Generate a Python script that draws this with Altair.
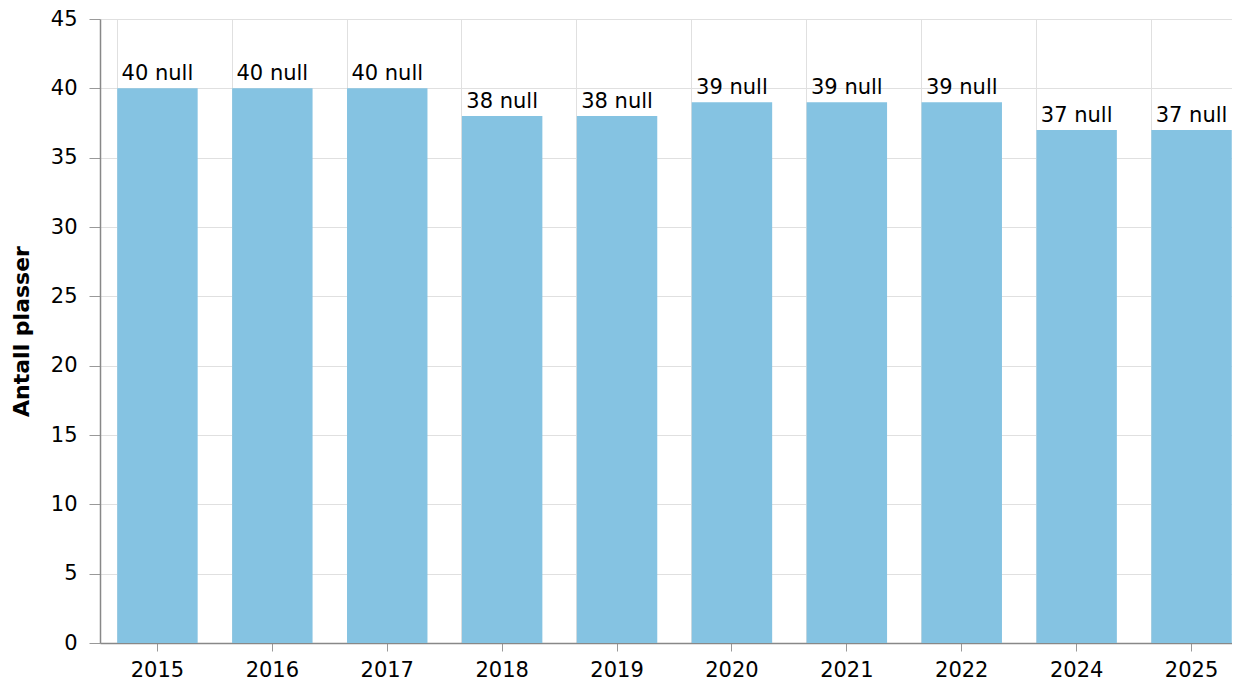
import altair as alt
import pandas as pd

years = ["2015", "2016", "2017", "2018", "2019", "2020", "2021", "2022", "2024", "2025"]
values = [40, 40, 40, 38, 38, 39, 39, 39, 37, 37]
labels = [f"{v} null" for v in values]

df = pd.DataFrame({"year": years, "value": values, "label": labels})

FONT = "DejaVu Sans"
FS = 21

x_scale = alt.Scale(paddingInner=0.3, paddingOuter=0.15, range=[0, 1149])
y_scale = alt.Scale(domain=[0, 45])

bars = alt.Chart(df).mark_bar(color="#85c3e2").encode(
    x=alt.X("year:N", sort=years, scale=x_scale, title=None,
            axis=alt.Axis(labelAngle=0, grid=False, tickSize=8, labelPadding=8,
                          labelFontSize=FS, labelColor="#000", labelFont=FONT,
                          domainColor="#888", tickColor="#999", domainWidth=1.5)),
    y=alt.Y("value:Q", scale=y_scale, title="Antall plasser",
            axis=alt.Axis(values=list(range(0, 50, 5)), tickSize=11, labelPadding=12,
                          labelFontSize=FS, labelColor="#000", labelFont=FONT,
                          titleFont=FONT, titleFontSize=22, titleFontWeight="bold",
                          titleColor="#000", titlePadding=17,
                          gridColor="#e0e0e0", domainColor="#888", tickColor="#999",
                          domainWidth=1.5)),
)

vgrid = alt.Chart(df).mark_bar(opacity=0).encode(
    x=alt.X("year:N", sort=years, scale=x_scale, title=None,
            axis=alt.Axis(orient="top", grid=True, bandPosition=0, labels=False,
                          ticks=False, domain=False, gridColor="#e0e0e0")),
    y=alt.Y("value:Q", scale=y_scale, title="Antall plasser"),
)

text = alt.Chart(df).mark_text(baseline="bottom", dy=-4, fontSize=FS, font=FONT,
                               color="#000").encode(
    x=alt.X("year:N", sort=years, scale=x_scale, axis=None),
    y=alt.Y("value:Q", scale=y_scale, title="Antall plasser"),
    text="label:N",
)

chart = alt.layer(vgrid, bars, text).resolve_axis(x="independent").properties(
    width=1132, height=624,
    autosize=alt.AutoSizeParams(type="none"),
    padding={"left": 92, "top": 11, "right": 0, "bottom": 42},
).configure_view(stroke=None)

chart.save("out.html", embed_options={"renderer": "svg", "actions": False})
